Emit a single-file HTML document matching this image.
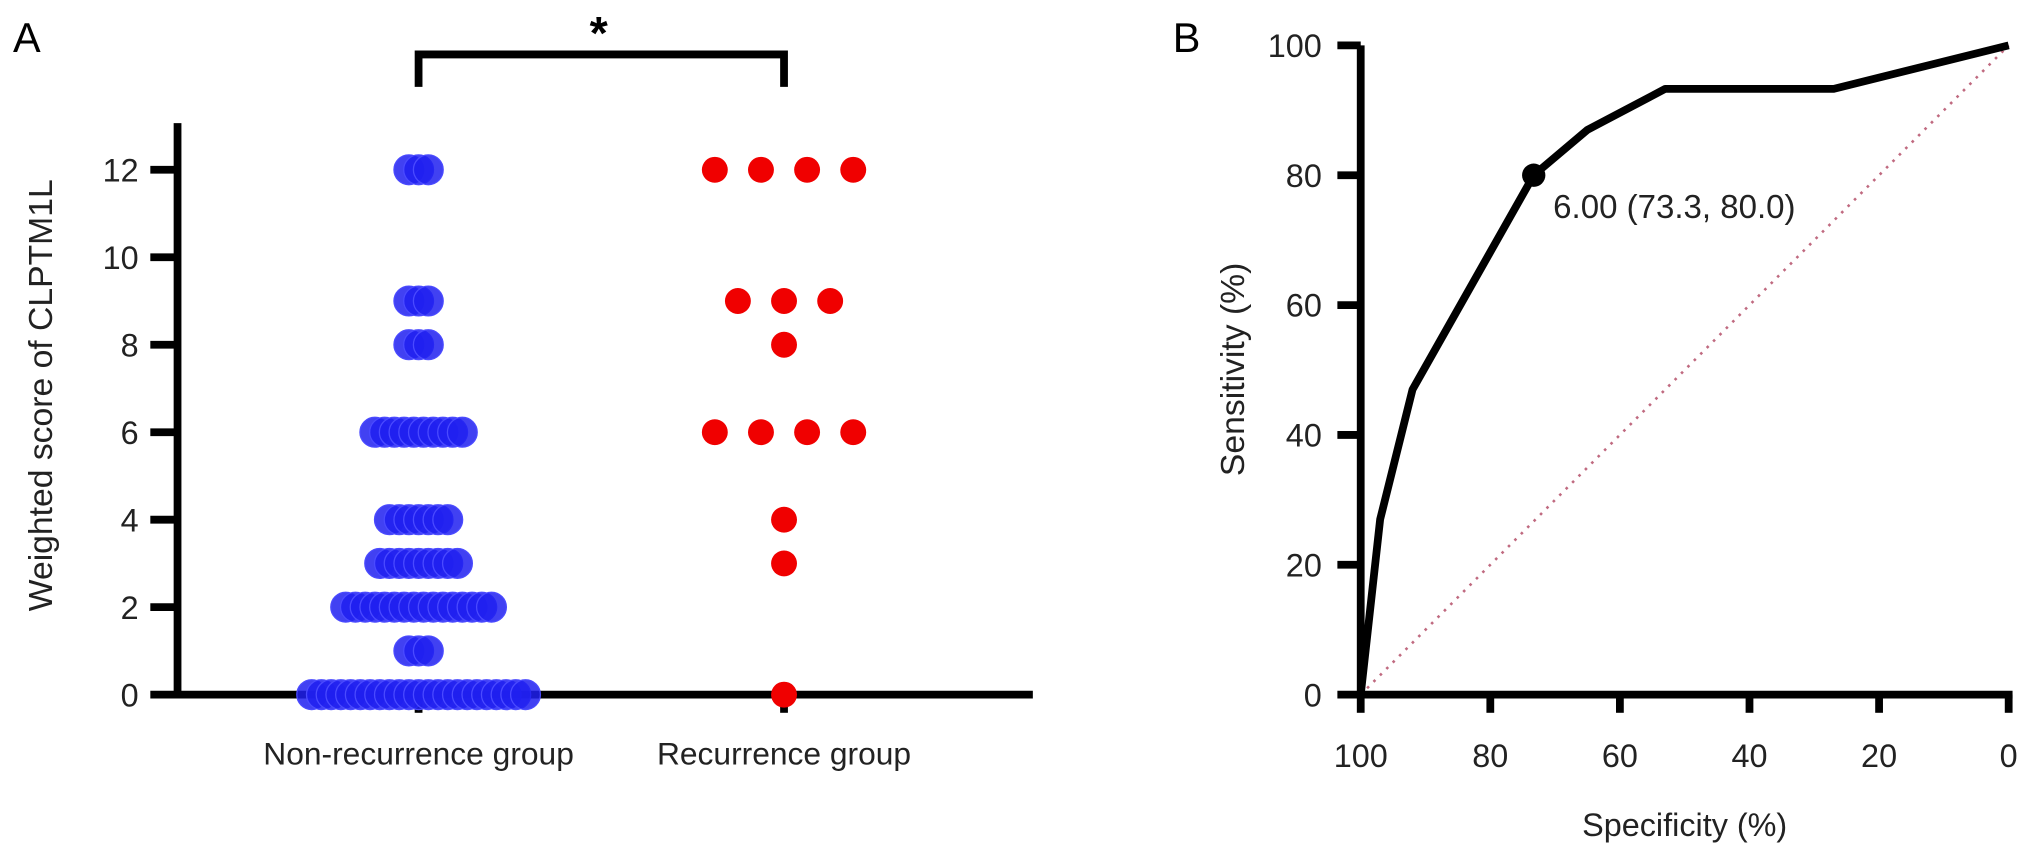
<!DOCTYPE html>
<html><head><meta charset="utf-8"><style>
html,body{margin:0;padding:0;background:#fff;}
svg{display:block;font-family:"Liberation Sans",Arial,sans-serif;}
</style></head><body>
<svg id="c" width="2032" height="856" viewBox="0 0 1568 660.5" preserveAspectRatio="none" xmlns="http://www.w3.org/2000/svg"></svg>
<script>
// Panel A data
const scoresA = [0,1,2,3,4,6,8,9,12];
const nonRecCounts = [23,3,16,9,7,10,3,3,3];
const recScores = [12,12,12,12,9,9,9,8,6,6,6,6,4,3,0];
const recCols = [-1.5,-0.5,0.5,1.5,-1,0,1,0,-1.5,-0.5,0.5,1.5,0,0,0];
const yTicksA = [0,2,4,6,8,10,12];
const groups = ["Non-recurrence group","Recurrence group"];
// Panel B data
const rocSpec = [100,97,92,73.3,65,53,27,0];
const rocSens = [0,27,47,80,87,93.3,93.3,100];
const cutSpec = 73.3, cutSens = 80.0;
const ticksB = [0,20,40,60,80,100];

const NS="http://www.w3.org/2000/svg";
const svg=document.getElementById('c');
function mk(tag,attrs,parent){const e=document.createElementNS(NS,tag);for(const k in attrs)e.setAttribute(k,attrs[k]);(parent||svg).appendChild(e);return e;}
function txt(s,attrs,parent){const e=mk('text',attrs,parent);e.textContent=s;return e;}

// ---------- Panel A ----------
const yA=v=>536-v*33.75;
const xG=[323,605];
const gA=mk('g',{});


let l=txt('A',{x:10,y:40,'font-size':32},gA);

let ax=mk('path',{d:'M137,95 V539 M134,536 H797',stroke:'#000','stroke-width':6,fill:'none'},gA);

yTicksA.forEach(v=>{
  let t=mk('line',{x1:116,x2:137,y1:yA(v),y2:yA(v),stroke:'#000','stroke-width':6},gA);
  
  let tl=txt(String(v),{x:107,y:yA(v)+9,'font-size':25,'text-anchor':'end',fill:'#222'},gA);
  
});
xG.forEach((x,i)=>{
  let t=mk('line',{x1:x,x2:x,y1:536,y2:550,stroke:'#000','stroke-width':6},gA);
  
  let tl=txt(groups[i],{x:x,y:590,'font-size':24.5,'text-anchor':'middle',fill:'#222'},gA);
  
});
let yt=txt('Weighted score of CLPTM1L',{x:0,y:0,'font-size':26,'text-anchor':'middle',fill:'#222',transform:'translate(40,305) rotate(-90)'},gA);

let br=mk('path',{d:'M323,67 V42 H605 V67',stroke:'#000','stroke-width':6,fill:'none'},gA);

let st=txt('*',{x:462,y:38,'font-size':36,'text-anchor':'middle','font-weight':'bold'},gA);

scoresA.forEach((s,i)=>{
  const n=nonRecCounts[i];
  for(let k=0;k<n;k++){
    const c=mk('circle',{cx:xG[0]+(k-(n-1)/2)*7.5,cy:yA(s),r:11.5,fill:'#2020f0','fill-opacity':0.85,stroke:'#4a4aff','stroke-width':1},gA);
    
    
  }
});
recScores.forEach((s,i)=>{
  const c=mk('circle',{cx:xG[1]+recCols[i]*35.6,cy:yA(s),r:10,fill:'#f00000'},gA);
  
  
});

// ---------- Panel B ----------
const xB=v=>1550-v*5;
const yB=v=>536-v*5.01;
const gB=mk('g',{});


l=txt('B',{x:905,y:40,'font-size':32},gB);

let dg=mk('line',{x1:xB(100),y1:yB(0),x2:xB(0),y2:yB(100),stroke:'#c06a80','stroke-width':2,'stroke-dasharray':'2,5'},gB);

ax=mk('path',{d:'M1050,'+(yB(100))+' V539 M1047,536 H1553',stroke:'#000','stroke-width':6,fill:'none'},gB);

ticksB.forEach(v=>{
  let t=mk('line',{x1:1032,x2:1050,y1:yB(v),y2:yB(v),stroke:'#000','stroke-width':6},gB);
  
  let tl=txt(String(v),{x:1020,y:yB(v)+9,'font-size':25,'text-anchor':'end',fill:'#222'},gB);
  
  let t2=mk('line',{x1:xB(v),x2:xB(v),y1:536,y2:550,stroke:'#000','stroke-width':6},gB);
  
  let tl2=txt(String(v),{x:xB(v),y:592,'font-size':25,'text-anchor':'middle',fill:'#222'},gB);
  
});
let xt=txt('Specificity (%)',{x:1300,y:645,'font-size':25,'text-anchor':'middle',fill:'#222'},gB);

let yt2=txt('Sensitivity (%)',{x:0,y:0,'font-size':26,'text-anchor':'middle',fill:'#222',transform:'translate(960,285) rotate(-90)'},gB);

const pts=rocSpec.map((s,i)=>xB(s)+','+yB(rocSens[i])).join(' ');
let rc=mk('polyline',{points:pts,fill:'none',stroke:'#000','stroke-width':6,'stroke-linejoin':'round'},gB);

let cp=mk('circle',{cx:xB(cutSpec),cy:yB(cutSens),r:9,fill:'#000'},gB);

let cl=txt('6.00 ('+cutSpec.toFixed(1)+', '+cutSens.toFixed(1)+')',{x:xB(cutSpec)+15,y:yB(cutSens)+33,'font-size':25.5,fill:'#222'},gB);

</script>
</body></html>
